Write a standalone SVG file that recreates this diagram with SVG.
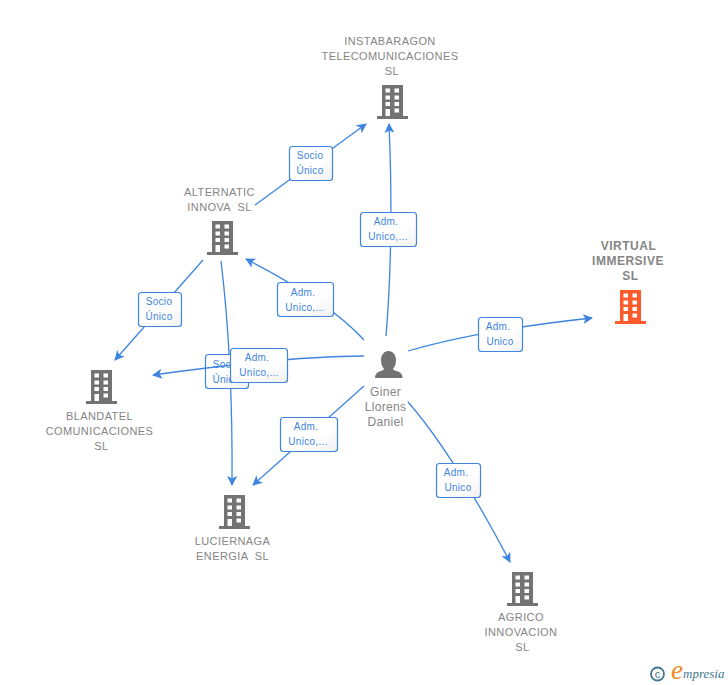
<svg xmlns="http://www.w3.org/2000/svg" width="728" height="685" viewBox="0 0 728 685">
<style>
.c{fill:none;stroke:#3d85e0;stroke-width:1.3;marker-end:url(#ah)}
.b{fill:url(#lg);stroke:#3d85e0;stroke-width:1.2}
.l{font:10px "Liberation Sans",Arial,sans-serif;fill:#3d85e0;text-anchor:middle;letter-spacing:.3px}
.t{font:11px "Liberation Sans",Arial,sans-serif;fill:#858585;text-anchor:middle;letter-spacing:.4px}
.g{font:12px "Liberation Sans",Arial,sans-serif;fill:#858585;text-anchor:middle;letter-spacing:.3px}
.v{font:bold 12px "Liberation Sans",Arial,sans-serif;fill:#858585;text-anchor:middle;letter-spacing:.5px}
</style>
<defs>
<linearGradient id="lg" x1="0" y1="0" x2="1" y2="1"><stop offset="0" stop-color="#fff"/><stop offset=".6" stop-color="#fff"/><stop offset="1" stop-color="#f0f0f0"/></linearGradient>
<marker id="ah" viewBox="0 0 10 10" refX="9" refY="5" markerWidth="10" markerHeight="10" markerUnits="userSpaceOnUse" orient="auto"><path d="M0 0L10 5L0 10L2.500 5Z" fill="#3d85e0"/></marker>
<symbol id="bld" viewBox="0 0 31 34" width="31" height="34">
<path fill="currentColor" d="M5 0H26V31H31V34H0V31H5Z"/>
<path fill="#fff" d="M8.500 3.500H13V7.500H8.500ZM17.500 3.500H22V7.500H17.500ZM8.500 10.500H13V14.500H8.500ZM17.500 10.500H22V14.500H17.500ZM8.500 17H13V21H8.500ZM17.500 17H22V21H17.500ZM8.500 24H13V31H8.500ZM17.500 23.500H22V27.500H17.500Z"/>
</symbol>
</defs>
<rect width="728" height="685" fill="#fff"/>
<g id="connectors">
<path class="c" d="M255 205L366 124"/>
<path class="c" d="M386 336Q394 240 389 124"/>
<path class="c" d="M364 340Q330 302 246 259"/>
<path class="c" d="M408 351Q480 330 592 318"/>
<path class="c" d="M364 386L253 485"/>
<path class="c" d="M408 402Q452 452 510 562"/>
<path class="c" d="M203 260L115 360"/>
<path class="c" d="M221 261Q233 360 232 485"/>
<g id="label-alt-insta"><rect class="b" x="289.500" y="146.500" width="43" height="34" rx="3"/><text class="l" x="310" y="159">Socio</text><text class="l" x="310" y="174">Único</text></g>
<g id="label-giner-insta"><rect class="b" x="360.500" y="212.500" width="56" height="34" rx="3"/><text class="l" x="386" y="225">Adm.</text><text class="l" x="388" y="240">Unico,...</text></g>
<g id="label-giner-alt"><rect class="b" x="277.500" y="282.500" width="56" height="34" rx="3"/><text class="l" x="303" y="296">Adm.</text><text class="l" x="305" y="311">Unico,...</text></g>
<g id="label-alt-blan"><rect class="b" x="138.500" y="292.500" width="43" height="34" rx="3"/><text class="l" x="159" y="305">Socio</text><text class="l" x="159" y="320">Único</text></g>
<g id="label-alt-luc"><rect class="b" x="205.500" y="354.500" width="43" height="34" rx="3"/><text class="l" x="226" y="368">Socio</text><text class="l" x="226" y="383">Único</text></g>
<path class="c" d="M364 356Q290 356 153 375"/>
<g id="label-giner-blan"><rect class="b" x="230.500" y="348.500" width="57" height="34" rx="3"/><text class="l" x="257" y="361">Adm.</text><text class="l" x="259" y="376">Unico,...</text></g>
<g id="label-giner-luc"><rect class="b" x="280.500" y="417.500" width="57" height="34" rx="3"/><text class="l" x="306" y="430">Adm.</text><text class="l" x="308" y="445">Unico,...</text></g>
<g id="label-giner-virtual"><rect class="b" x="478.500" y="317.500" width="44" height="34" rx="3"/><text class="l" x="498" y="330">Adm.</text><text class="l" x="500" y="345">Unico</text></g>
<g id="label-giner-agrico"><rect class="b" x="436.500" y="463.500" width="44" height="34" rx="3"/><text class="l" x="456" y="476">Adm.</text><text class="l" x="458" y="491">Unico</text></g>
</g>
<g id="node-instabaragon" color="#737373"><text class="t" x="390" y="45">INSTABARAGON</text><text class="t" x="390" y="60">TELECOMUNICACIONES</text><text class="t" x="392" y="75">SL</text><use href="#bld" x="377" y="85"/></g>
<g id="node-alternatic" color="#737373"><text class="t" x="219.500" y="196">ALTERNATIC</text><text class="t" x="219.500" y="211" xml:space="preserve">INNOVA  SL</text><use href="#bld" x="207" y="221"/></g>
<g id="node-virtual" color="#ff5a2b"><text class="v" x="628.500" y="250">VIRTUAL</text><text class="v" x="628" y="265">IMMERSIVE</text><text class="v" x="630.500" y="280">SL</text><use href="#bld" x="615" y="290"/></g>
<g id="node-blandatel" color="#737373"><use href="#bld" x="86" y="370"/><text class="t" x="99.500" y="420">BLANDATEL</text><text class="t" x="99.500" y="435">COMUNICACIONES</text><text class="t" x="101.500" y="450">SL</text></g>
<g id="node-giner"><path fill="#737373" d="M388.500 351C393 351 396 355 396 360C396 364 395 366 393 369C394 371 398 371 400 372.500C402 374 402.500 376 402.500 378H375C375 376 375.500 374 377.500 372.500C379.500 371 383 371 384 369C382 366 381 364 381 360C381 355 384 351 388.500 351Z"/><text class="g" x="385.500" y="396">Giner</text><text class="g" x="385.500" y="411">Llorens</text><text class="g" x="385.500" y="426">Daniel</text></g>
<g id="node-luciernaga" color="#737373"><use href="#bld" x="219" y="495"/><text class="t" x="232.500" y="545">LUCIERNAGA</text><text class="t" x="232.500" y="560" xml:space="preserve">ENERGIA  SL</text></g>
<g id="node-agrico" color="#737373"><use href="#bld" x="507" y="572"/><text class="t" x="521" y="621">AGRICO</text><text class="t" x="521" y="636">INNOVACION</text><text class="t" x="522.500" y="651">SL</text></g>
<g id="logo"><circle cx="657.500" cy="674" r="6.500" fill="none" stroke="#41788f" stroke-width="1.800"/><text x="657.500" y="678" font-family="Liberation Sans,sans-serif" font-size="11" fill="#41788f" text-anchor="middle">c</text><text x="671" y="679" font-family="Liberation Serif,serif" font-style="italic" font-size="27" fill="#f08a24">e</text><text x="683" y="678" font-family="Liberation Serif,serif" font-style="italic" font-size="13" fill="#41788f">mpresia</text></g>
</svg>
